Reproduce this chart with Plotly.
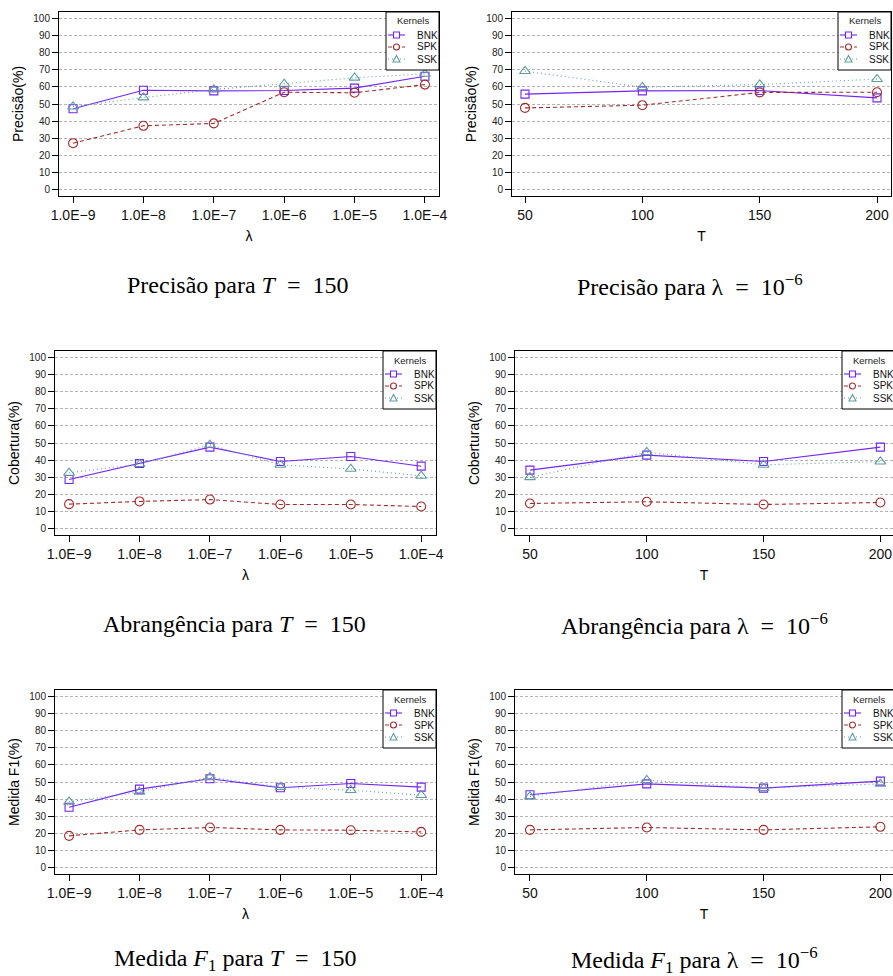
import plotly.graph_objects as go

# ---------------- data ----------------
lambda_labels = ["1.0E−9", "1.0E−8", "1.0E−7", "1.0E−6", "1.0E−5", "1.0E−4"]
T_values = [50, 100, 150, 200]
kernels = ["BNK", "SPK", "SSK"]

# Precisão (%) vs lambda, T = 150
prec_lambda_BNK = [47.2, 58.1, 57.7, 57.9, 59.3, 66.3]
prec_lambda_SPK = [27.0, 37.2, 38.6, 56.9, 56.6, 61.4]
prec_lambda_SSK = [48.5, 53.8, 58.5, 61.8, 65.4, 67.7]
# Precisão (%) vs T, lambda = 1e-6
prec_T_BNK = [55.8, 57.7, 57.9, 53.6]
prec_T_SPK = [47.7, 49.3, 56.8, 56.9]
prec_T_SSK = [69.3, 59.9, 61.4, 64.6]
# Cobertura (%) vs lambda
cob_lambda_BNK = [28.6, 38.0, 47.6, 39.1, 42.1, 36.4]
cob_lambda_SPK = [14.1, 15.7, 16.8, 13.9, 13.9, 12.7]
cob_lambda_SSK = [32.5, 37.6, 48.9, 37.2, 34.8, 30.7]
# Cobertura (%) vs T
cob_T_BNK = [34.1, 42.9, 39.1, 47.6]
cob_T_SPK = [14.5, 15.5, 13.9, 15.1]
cob_T_SSK = [29.9, 44.6, 37.2, 39.1]
# Medida F1 (%) vs lambda
f1_lambda_BNK = [35.2, 45.8, 51.9, 46.6, 49.1, 47.0]
f1_lambda_SPK = [18.4, 21.9, 23.3, 21.9, 21.7, 20.7]
f1_lambda_SSK = [38.4, 44.2, 52.8, 47.0, 45.2, 42.3]
# Medida F1 (%) vs T
f1_T_BNK = [42.5, 48.9, 46.4, 50.5]
f1_T_SPK = [21.9, 23.3, 21.9, 23.7]
f1_T_SSK = [41.5, 51.1, 46.4, 48.9]

y_ticks = list(range(0, 101, 10))

captions = [
    "Precisão para <i>T</i>\u2002=\u2002150",
    "Precisão para λ\u2002=\u200210<sup>−6</sup>",
    "Abrangência para <i>T</i>\u2002=\u2002150",
    "Abrangência para λ\u2002=\u200210<sup>−6</sup>",
    "Medida <i>F</i><sub>1</sub> para <i>T</i>\u2002=\u2002150",
    "Medida <i>F</i><sub>1</sub> para λ\u2002=\u200210<sup>−6</sup>",
]
y_titles = ["Precisão(%)", "Precisão(%)", "Cobertura(%)", "Cobertura(%)",
            "Medida F1(%)", "Medida F1(%)"]
legend_title = "Kernels"

# ---------------- styles ----------------
W, H = 893, 976
colors = {"BNK": "#7424f7", "SPK": "#a52a2a", "SSK": "#5f9ea0"}
symbols = {"BNK": "square-open", "SPK": "circle-open", "SSK": "triangle-up-open"}
msizes = {"BNK": 8, "SPK": 9, "SSK": 9.5}
dashes = {"BNK": "solid", "SPK": "4px,3px", "SSK": "1px,3px"}
sans = "Liberation Sans, Arial, Helvetica, sans-serif"
serif = "Liberation Serif, Times New Roman, serif"

# panel boxes in pixels: (x0, x1, y0, y1) from top-left (x1 may exceed the page)
boxes = [
    (59, 439, 12, 196),
    (512, 891, 12, 196),
    (55, 436, 351, 535),
    (515, 895, 351, 535),
    (55, 436, 690, 874),
    (515, 895, 690, 874),
]
caption_pos = [(238, 285), (690, 285), (234, 624), (694, 624), (235, 960), (694, 960)]

panels = [
    (lambda_labels, {"BNK": prec_lambda_BNK, "SPK": prec_lambda_SPK, "SSK": prec_lambda_SSK}, "λ"),
    (T_values, {"BNK": prec_T_BNK, "SPK": prec_T_SPK, "SSK": prec_T_SSK}, "T"),
    (lambda_labels, {"BNK": cob_lambda_BNK, "SPK": cob_lambda_SPK, "SSK": cob_lambda_SSK}, "λ"),
    (T_values, {"BNK": cob_T_BNK, "SPK": cob_T_SPK, "SSK": cob_T_SSK}, "T"),
    (lambda_labels, {"BNK": f1_lambda_BNK, "SPK": f1_lambda_SPK, "SSK": f1_lambda_SSK}, "λ"),
    (T_values, {"BNK": f1_T_BNK, "SPK": f1_T_SPK, "SSK": f1_T_SSK}, "T"),
]
# x ranges (data units) matching the reference frames
x_ranges = [[-0.2, 5.2], [44.46, 205.96], [-0.2, 5.21], [43.6, 205.4],
            [-0.2, 5.21], [43.6, 205.4]]


def px(x):
    return x / W


def py(y):
    return 1 - y / H


fig = go.Figure()
layout = dict(
    width=W, height=H, margin=dict(l=0, r=0, t=0, b=0),
    paper_bgcolor="white", plot_bgcolor="white",
    font=dict(family=sans, color="black"),
    template="none", showlegend=False,
)
annotations = []
shapes = []

for i, ((xs, series, xtitle), box, xr) in enumerate(zip(panels, boxes, x_ranges)):
    n = i + 1
    xa = "x" if n == 1 else f"x{n}"
    ya = "y" if n == 1 else f"y{n}"
    for k in kernels:
        fig.add_trace(go.Scatter(
            x=xs, y=series[k], name=k, mode="lines+markers",
            xaxis=xa, yaxis=ya, showlegend=False,
            line=dict(color=colors[k], width=1.1, dash=dashes[k]),
            marker=dict(symbol=symbols[k], size=msizes[k], color=colors[k],
                        line=dict(width=1.1, color=colors[k])),
        ))
    x0, x1, y0, y1 = box
    xdom = [px(x0), min(px(x1), 1.0)]
    ydom = [py(y1), py(y0)]
    xaxis = dict(
        domain=xdom, anchor=ya, range=xr, automargin=False,
        showline=True, mirror=True, linecolor="black", linewidth=1,
        showgrid=False, zeroline=False,
        ticks="outside", ticklen=6, tickcolor="black",
        tickfont=dict(size=14, family=sans, color="#111"),
        title=dict(text=xtitle, font=dict(size=14, family=sans), standoff=9),
    )
    if isinstance(xs[0], str):
        xaxis.update(type="category", tickvals=xs, ticktext=xs)
    else:
        xaxis.update(type="linear", tickvals=xs)
    yaxis = dict(
        domain=ydom, anchor=xa, range=[-4, 104], automargin=False,
        showline=True, mirror=True, linecolor="black", linewidth=1,
        showgrid=True, gridcolor="#b4b4b4", gridwidth=1, griddash="3px,2px",
        zeroline=False, tickvals=y_ticks,
        ticks="outside", ticklen=6, tickcolor="black",
        tickfont=dict(size=10, family=sans, color="#222"),
        title=dict(text=y_titles[i], font=dict(size=14, family=sans), standoff=6),
    )
    layout["xaxis" if n == 1 else f"xaxis{n}"] = xaxis
    layout["yaxis" if n == 1 else f"yaxis{n}"] = yaxis

    # ---- R-style legend box in the top-right corner of the frame ----
    lx1 = x1
    lx0 = x1 - 53
    ly0 = y0
    ly1 = y0 + 58
    shapes.append(dict(type="rect", xref="paper", yref="paper",
                       x0=px(lx0), x1=px(lx1), y0=py(ly1), y1=py(ly0),
                       line=dict(color="black", width=1), fillcolor="white",
                       layer="above"))
    annotations.append(dict(text=legend_title, x=px((lx0 + lx1) / 2), y=py(ly0 + 9),
                            xref="paper", yref="paper", xanchor="center", yanchor="middle",
                            showarrow=False, font=dict(size=9.5, family=sans, color="#222")))
    for r, k in enumerate(kernels):
        ry = ly0 + 23 + 12 * r
        shapes.append(dict(type="line", xref="paper", yref="paper",
                           x0=px(lx0 + 2), x1=px(lx0 + 19), y0=py(ry), y1=py(ry),
                           line=dict(color=colors[k], width=1.1, dash=dashes[k]),
                           layer="above"))
        mx = lx0 + 10.5
        if k == "BNK":
            shapes.append(dict(type="rect", xref="paper", yref="paper",
                               x0=px(mx - 3), x1=px(mx + 3), y0=py(ry + 3), y1=py(ry - 3),
                               line=dict(color=colors[k], width=1.1), fillcolor="white",
                               layer="above"))
        elif k == "SPK":
            shapes.append(dict(type="circle", xref="paper", yref="paper",
                               x0=px(mx - 3), x1=px(mx + 3), y0=py(ry + 3), y1=py(ry - 3),
                               line=dict(color=colors[k], width=1.1), fillcolor="white",
                               layer="above"))
        else:
            path = (f"M {px(mx - 3.5)},{py(ry + 3)} L {px(mx + 3.5)},{py(ry + 3)} "
                    f"L {px(mx)},{py(ry - 3.5)} Z")
            shapes.append(dict(type="path", xref="paper", yref="paper", path=path,
                               line=dict(color=colors[k], width=1.1), fillcolor="white",
                               layer="above"))
        annotations.append(dict(text=k, x=px(lx0 + 29), y=py(ry),
                                xref="paper", yref="paper", xanchor="left", yanchor="middle",
                                showarrow=False, font=dict(size=10, family=sans, color="#111")))

    cx, cy = caption_pos[i]
    annotations.append(dict(
        text=captions[i], x=px(cx), y=py(cy), xref="paper", yref="paper",
        xanchor="center", yanchor="middle", showarrow=False,
        font=dict(family=serif, size=24, color="black"),
    ))

layout["annotations"] = annotations
layout["shapes"] = shapes
fig.update_layout(**layout)
fig.write_html(
    "out.html",
    config={"displayModeBar": False},
    post_script="document.body.style.margin='0px';document.body.style.overflow='hidden';",
)
